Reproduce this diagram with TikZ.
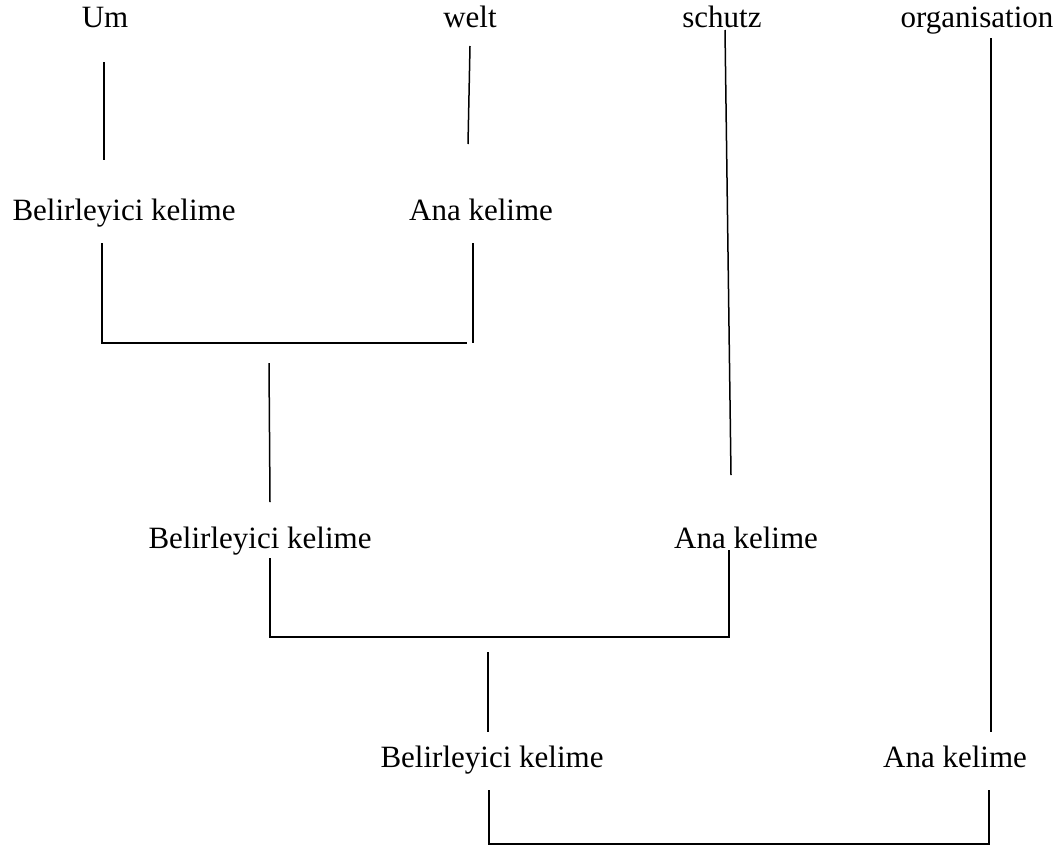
\documentclass[tikz,border=0pt]{standalone}
\usepackage{fontspec}
\setmainfont{Liberation Serif}
\begin{document}
\begin{tikzpicture}[x=1pt,y=-1pt,
        every node/.style={font=\fontsize{31}{37}\selectfont,inner sep=0pt,anchor=base},
        stem/.style={line width=1.5pt}]
        \useasboundingbox (0,0) rectangle (1063,849);
        \foreach \x/\y/\n/\l in {105/27/um/Um,470/27/welt/welt,722/27/schutz/schutz,977/27/org/organisation}{
            \node[] (\n) at (\x,\y) {\l};
        }
        \foreach \x/\y/\n/\l in {124/220/bk1/Belirleyici kelime,481/220/ak1/Ana kelime,260/548/bk2/Belirleyici kelime,746/548/ak2/Ana kelime,492/767/bk3/Belirleyici kelime,955/767/ak3/Ana kelime}{
            \node[] (\n) at (\x,\y) {\l};
        }
        \foreach \x/\y/\n in {104/62/um1,104/160/um2,470/46/welt1,468/144/welt2,725/30/schutz1,731/475/schutz2,991/38/org1,991/732/org2,269/363/mid1,270/502/mid2,488/652/mid3,488/732/mid4}{
            \coordinate (\n) at (\x,\y);
        }
        \foreach \x/\y/\n in {102/243/l1t,102/343/l1b,467/343/l1e,473/243/r1t,473/343/r1b,270/558/l2t,270/637/l2b,729/637/r2b,729/550/r2t,489/790/l3t,489/844/l3b,989/844/r3b,989/790/r3t}{
            \coordinate (\n) at (\x,\y);
        }
        \foreach \m/\n in {um1/um2,welt1/welt2,schutz1/schutz2,org1/org2,mid1/mid2,mid3/mid4,r1t/r1b}{
            \draw[stem] (\m) -- (\n);
        }
        \draw[stem] (l1t) -- (l1b) -- (l1e);
        \draw[stem] (l2t) -- (l2b) -- (r2b) -- (r2t);
        \draw[stem] (l3t) -- (l3b) -- (r3b) -- (r3t);
    \end{tikzpicture}
\end{document}
